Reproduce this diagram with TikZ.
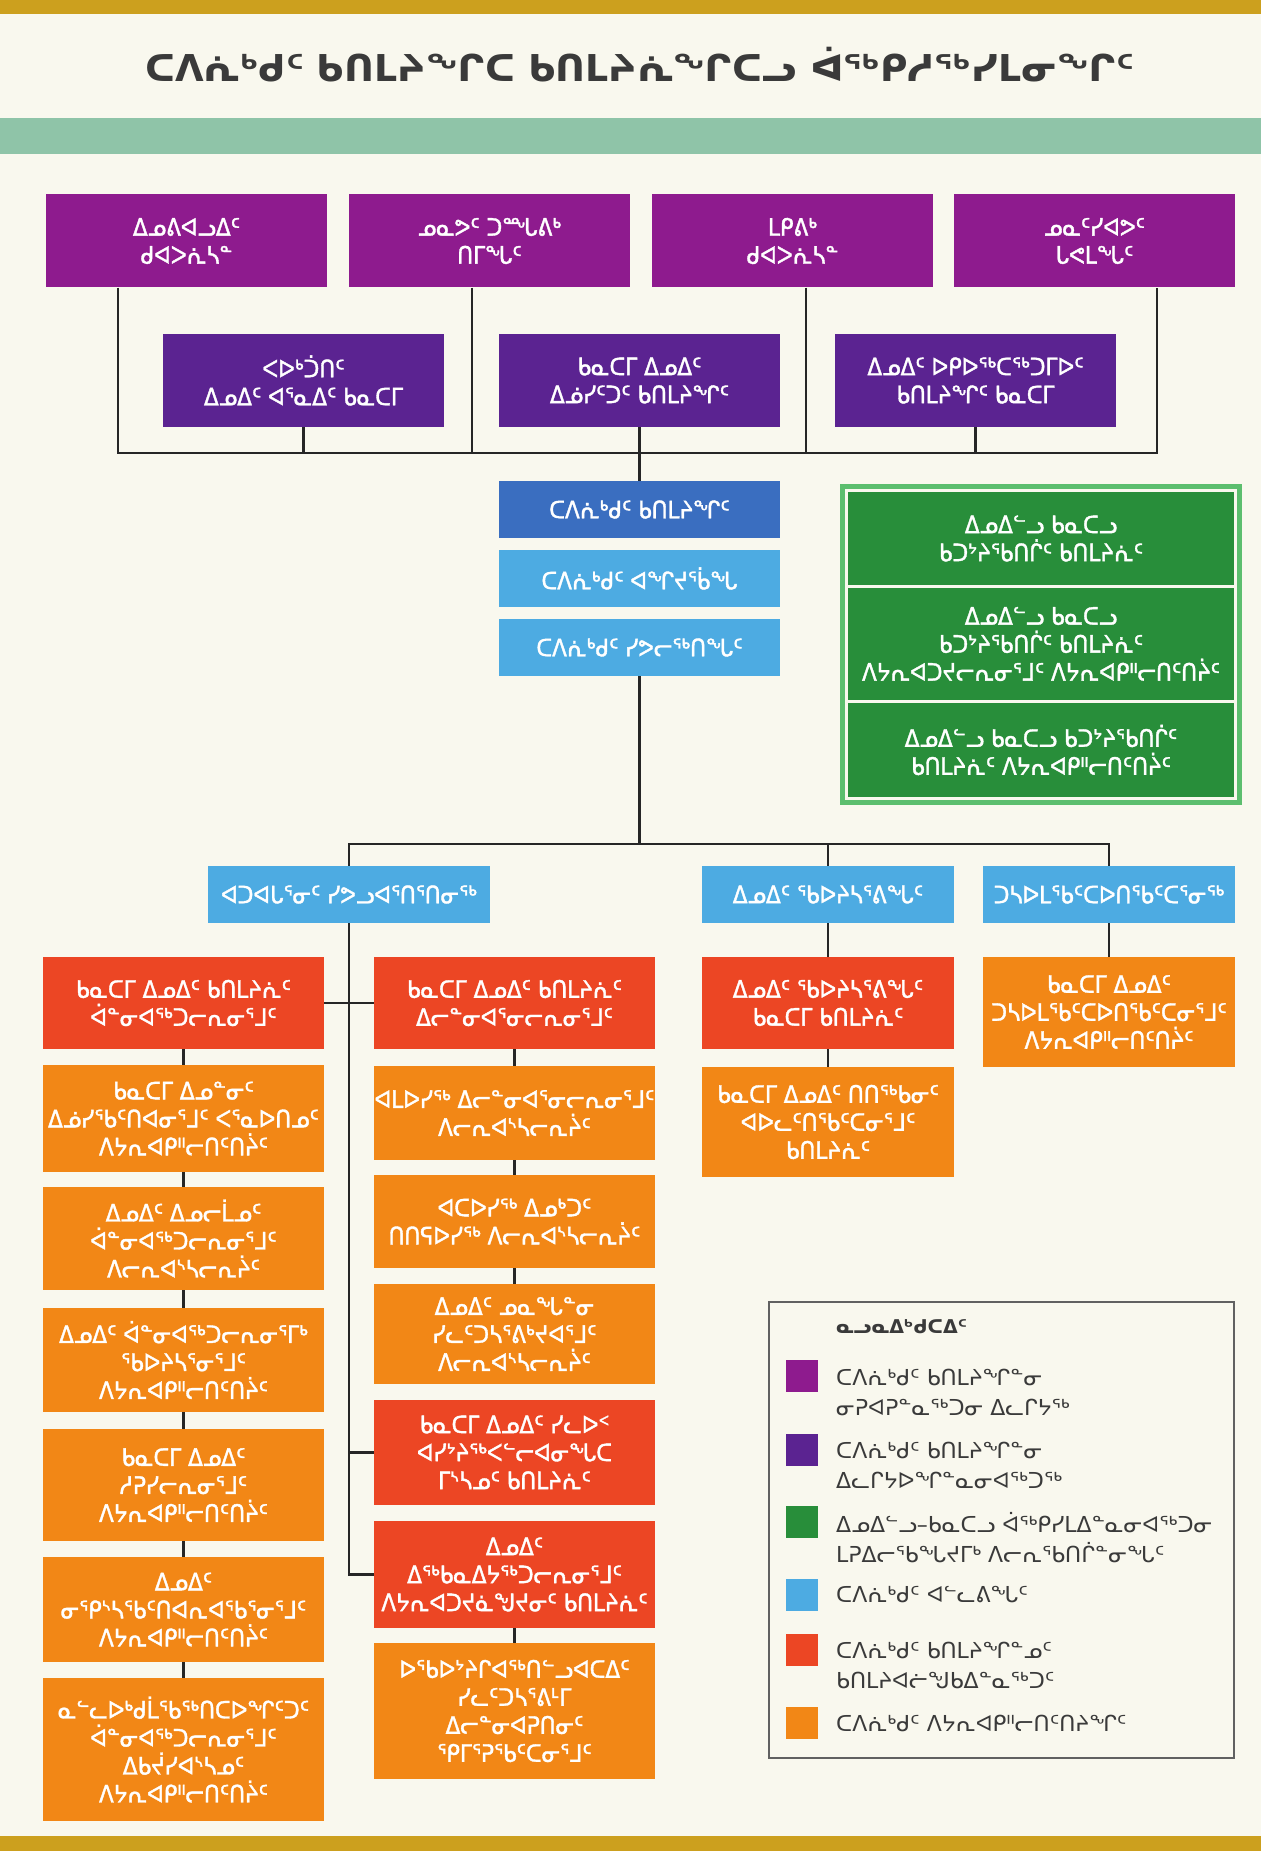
\documentclass[tikz,border=0pt]{standalone}
\usepackage{fontspec}
\setmainfont{DejaVu Sans}
\newfontfamily\boxfont{DejaVu Sans}[FakeStretch=0.9, FakeBold=1.5]
\definecolor{cream}{RGB}{249,248,238}
\definecolor{gold}{RGB}{204,160,30}
\definecolor{teal}{RGB}{143,196,168}
\definecolor{ink}{RGB}{58,58,58}
\definecolor{cPurple}{RGB}{142,27,142}
\definecolor{cViolet}{RGB}{91,35,145}
\definecolor{cNavy}{RGB}{58,110,192}
\definecolor{cSky}{RGB}{77,171,226}
\definecolor{cGreen}{RGB}{40,142,58}
\definecolor{cLime}{RGB}{92,190,110}
\definecolor{cRed}{RGB}{236,70,36}
\definecolor{cOrange}{RGB}{242,135,22}
\begin{document}
\begin{tikzpicture}[x=1pt,y=-1pt,
  box/.style={shape=rectangle, inner sep=0pt, align=center, text=white, font=\boxfont\fontsize{24}{28}\selectfont},
  pbox/.style={box, fill=cPurple, minimum width=281pt, minimum height=93pt},
  vbox/.style={box, fill=cViolet, minimum width=281pt, minimum height=93pt},
  navybox/.style={box, fill=cNavy, minimum width=281pt, minimum height=57pt},
  skybox/.style={box, fill=cSky, minimum width=281pt, minimum height=57pt},
  gbox/.style={box, fill=cGreen, minimum width=386pt},
  rbox/.style={box, fill=cRed, minimum width=281pt},
  obox/.style={box, fill=cOrange, minimum width=281pt},
  swatch/.style={shape=rectangle, minimum size=32pt, inner sep=0pt},
  keytext/.style={anchor=west, align=left, inner sep=0pt, text=ink, font=\fontsize{22}{30}\selectfont},
  link/.style={line width=2.2pt, draw=black!85}]
\useasboundingbox (0,0) rectangle (1261,1851);
\fill[cream] (0,0) rectangle (1261,1851);
\fill[gold] (0,0) rectangle (1261,14);
\fill[gold] (0,1836) rectangle (1261,1851);
\fill[teal] (0,118) rectangle (1261,154);
\node (title) at (640,65) [text=ink, font=\fontsize{37}{44}\selectfont\bfseries] {ᑕᐱᕇᒃᑯᑦ ᑲᑎᒪᔨᖏᑕ ᑲᑎᒪᔨᕇᖏᑕᓗ ᐋᖅᑭᓱᖅᓯᒪᓂᖏᑦ};
% members
\node (ivc) at (186.5,241) [pbox] {ᐃᓄᕕᐊᓗᐃᑦ\\ᑯᐊᐳᕇᓴᓐ};
\node (ntk) at (489.5,241) [pbox] {ᓄᓇᕗᑦ ᑐᙵᕕᒃ\\ᑎᒥᖓᑦ};
\node (mak) at (792.5,241) [pbox] {ᒪᑭᕕᒃ\\ᑯᐊᐳᕇᓴᓐ};
\node (nts) at (1094.5,241) [pbox] {ᓄᓇᑦᓯᐊᕗᑦ\\ᒐᕙᒪᖓᑦ};
\node (pkt) at (303.5,380.5) [vbox] {ᐸᐅᒃᑑᑎᑦ\\ᐃᓄᐃᑦ ᐊᕐᓇᐃᑦ ᑲᓇᑕᒥ};
\node (icc) at (639.5,380.5) [vbox] {ᑲᓇᑕᒥ ᐃᓄᐃᑦ\\ᐃᓅᓯᑦᑐᑦ ᑲᑎᒪᔨᖏᑦ};
\node (iuk) at (975.5,380.5) [vbox] {ᐃᓄᐃᑦ ᐅᑭᐅᖅᑕᖅᑐᒥᐅᑦ\\ᑲᑎᒪᔨᖏᑦ ᑲᓇᑕᒥ};
\coordinate (bus) at (0,453);
\draw[link] ([xshift=-68.5pt]ivc.south) |- ([xshift=62.5pt]nts.south |- bus) -- ([xshift=62.5pt]nts.south);
\draw[link] ([xshift=-17.5pt]ntk.south) -- ([xshift=-17.5pt]ntk.south |- bus);
\draw[link] ([xshift=13.5pt]mak.south) -- ([xshift=13.5pt]mak.south |- bus);
\draw[link] (pkt.south) -- (pkt.south |- bus);
\draw[link] (iuk.south) -- (iuk.south |- bus);
% office
\node (board) at (639.5,509.5) [navybox] {ᑕᐱᕇᒃᑯᑦ ᑲᑎᒪᔨᖏᑦ};
\node (pres) at (639.5,578.5) [skybox] {ᑕᐱᕇᒃᑯᑦ ᐊᖏᔪᖄᖓ};
\node (ed) at (639.5,647.5) [skybox] {ᑕᐱᕇᒃᑯᑦ ᓯᕗᓕᖅᑎᖓᑦ};
\draw[link] (icc.south) -- (board.north);
% partnership
\fill[cLime] (840,484) rectangle (1242,805);
\fill[cream] (845,489) rectangle (1237,800);
\node (icpc) at (1041,538.5) [gbox, minimum height=93pt] {ᐃᓄᐃᓪᓗ ᑲᓇᑕᓗ\\ᑲᑐᔾᔨᖃᑎᒌᑦ ᑲᑎᒪᔨᕇᑦ};
\node (icpcw) at (1041,644) [gbox, minimum height=112pt] {ᐃᓄᐃᓪᓗ ᑲᓇᑕᓗ\\ᑲᑐᔾᔨᖃᑎᒌᑦ ᑲᑎᒪᔨᕇᑦ\\ᐱᔭᕆᐊᑐᔪᓕᕆᓂᕐᒧᑦ ᐱᔭᕆᐊᑭᐦᓕᑎᑦᑎᔩᑦ};
\node (icpct) at (1041,750) [gbox, minimum height=94pt] {ᐃᓄᐃᓪᓗ ᑲᓇᑕᓗ ᑲᑐᔾᔨᖃᑎᒌᑦ\\ᑲᑎᒪᔨᕇᑦ ᐱᔭᕆᐊᑭᐦᓕᑎᑦᑎᔩᑦ};
% departments
\node (pol) at (349,894.5) [skybox, minimum width=282pt] {ᐊᑐᐊᒐᕐᓂᑦ ᓯᕗᓗᐊᕐᑎᕐᑎᓂᖅ};
\node (iq) at (828,894.5) [skybox, minimum width=252pt] {ᐃᓄᐃᑦ ᖃᐅᔨᓴᕐᕕᖓᑦ};
\node (com) at (1109,894.5) [skybox, minimum width=252pt] {ᑐᓴᐅᒪᖃᑦᑕᐅᑎᖃᑦᑕᕐᓂᖅ};
\coordinate (bus2) at (0,844);
\draw[link] (ed.south) -- (ed.south |- bus2);
\draw[link] (pol.north) -- (pol.north |- bus2) -| (com.north);
\draw[link] (iq.north) -- (iq.north |- bus2);
% left column
\node (l1) at (183.5,1003) [rbox, minimum height=92pt] {ᑲᓇᑕᒥ ᐃᓄᐃᑦ ᑲᑎᒪᔨᕇᑦ\\ᐋᓐᓂᐊᖅᑐᓕᕆᓂᕐᒧᑦ};
\node (l2) at (183.5,1118.5) [obox, minimum height=107pt] {ᑲᓇᑕᒥ ᐃᓄᓐᓂᑦ\\ᐃᓅᓯᖃᑦᑎᐊᓂᕐᒧᑦ ᐸᕐᓇᐅᑎᓄᑦ\\ᐱᔭᕆᐊᑭᐦᓕᑎᑦᑎᔩᑦ};
\node (l3) at (183.5,1238.5) [obox, minimum height=103pt] {ᐃᓄᐃᑦ ᐃᓄᓕᒫᓄᑦ\\ᐋᓐᓂᐊᖅᑐᓕᕆᓂᕐᒧᑦ\\ᐱᓕᕆᐊᔅᓴᓕᕆᔩᑦ};
\node (l4) at (183.5,1360) [obox, minimum height=104pt] {ᐃᓄᐃᑦ ᐋᓐᓂᐊᖅᑐᓕᕆᓂᕐᒥᒃ\\ᖃᐅᔨᓴᕐᓂᕐᒧᑦ\\ᐱᔭᕆᐊᑭᐦᓕᑎᑦᑎᔩᑦ};
\node (l5) at (183.5,1485) [obox, minimum height=112pt] {ᑲᓇᑕᒥ ᐃᓄᐃᑦ\\ᓱᕈᓯᓕᕆᓂᕐᒧᑦ\\ᐱᔭᕆᐊᑭᐦᓕᑎᑦᑎᔩᑦ};
\node (l6) at (183.5,1609.5) [obox, minimum height=105pt] {ᐃᓄᐃᑦ\\ᓂᕿᔅᓴᖃᑦᑎᐊᕆᐊᖃᕐᓂᕐᒧᑦ\\ᐱᔭᕆᐊᑭᐦᓕᑎᑦᑎᔩᑦ};
\node (l7) at (183.5,1749.5) [obox, minimum height=143pt] {ᓇᓪᓚᐅᒃᑯᒫᖃᖅᑎᑕᐅᖏᑦᑐᑦ\\ᐋᓐᓂᐊᖅᑐᓕᕆᓂᕐᒧᑦ\\ᐃᑲᔫᓯᐊᔅᓴᓄᑦ\\ᐱᔭᕆᐊᑭᐦᓕᑎᑦᑎᔩᑦ};
% middle column
\node (m1) at (514.5,1003) [rbox, minimum height=92pt] {ᑲᓇᑕᒥ ᐃᓄᐃᑦ ᑲᑎᒪᔨᕇᑦ\\ᐃᓕᓐᓂᐊᕐᓂᓕᕆᓂᕐᒧᑦ};
\node (m2) at (514.5,1113) [obox, minimum height=94pt] {ᐊᒪᐅᓯᖅ ᐃᓕᓐᓂᐊᕐᓂᓕᕆᓂᕐᒧᑦ\\ᐱᓕᕆᐊᔅᓴᓕᕆᔩᑦ};
\node (m3) at (514.5,1221.5) [obox, minimum height=93pt] {ᐊᑕᐅᓯᖅ ᐃᓄᒃᑐᑦ\\ᑎᑎᕋᐅᓯᖅ ᐱᓕᕆᐊᔅᓴᓕᕆᔩᑦ};
\node (m4) at (514.5,1334) [obox, minimum height=100pt] {ᐃᓄᐃᑦ ᓄᓇᖓᓐᓂ\\ᓯᓚᑦᑐᓴᕐᕕᒃᔪᐊᕐᒧᑦ\\ᐱᓕᕆᐊᔅᓴᓕᕆᔩᑦ};
\node (m5) at (514.5,1452.5) [rbox, minimum height=105pt] {ᑲᓇᑕᒥ ᐃᓄᐃᑦ ᓯᓚᐅᑉ\\ᐊᓯᔾᔨᖅᐸᓪᓕᐊᓂᖓᑕ\\ᒥᔅᓴᓄᑦ ᑲᑎᒪᔨᕇᑦ};
\node (m6) at (514.5,1574.5) [rbox, minimum height=107pt] {ᐃᓄᐃᑦ\\ᐃᖅᑲᓇᐃᔭᖅᑐᓕᕆᓂᕐᒧᑦ\\ᐱᔭᕆᐊᑐᔪᓈᖑᔪᓂᑦ ᑲᑎᒪᔨᕇᑦ};
\node (m7) at (514.5,1711) [obox, minimum height=136pt] {ᐅᖃᐅᔾᔨᒋᐊᖅᑎᓪᓗᐊᑕᐃᑦ\\ᓯᓚᑦᑐᓴᕐᕕᒻᒥ\\ᐃᓕᓐᓂᐊᕈᑎᓂᑦ\\ᕿᒥᕐᕈᖃᑦᑕᓂᕐᒧᑦ};
% right columns
\node (r1) at (828,1003) [rbox, minimum width=252pt, minimum height=92pt] {ᐃᓄᐃᑦ ᖃᐅᔨᓴᕐᕕᖓᑦ\\ᑲᓇᑕᒥ ᑲᑎᒪᔨᕇᑦ};
\node (r2) at (828,1122) [obox, minimum width=252pt, minimum height=110pt] {ᑲᓇᑕᒥ ᐃᓄᐃᑦ ᑎᑎᖅᑲᓂᑦ\\ᐊᐅᓚᑦᑎᖃᑦᑕᓂᕐᒧᑦ\\ᑲᑎᒪᔨᕇᑦ};
\node (f1) at (1109,1012) [obox, minimum width=252pt, minimum height=110pt] {ᑲᓇᑕᒥ ᐃᓄᐃᑦ\\ᑐᓴᐅᒪᖃᑦᑕᐅᑎᖃᑦᑕᓂᕐᒧᑦ\\ᐱᔭᕆᐊᑭᐦᓕᑎᑦᑎᔩᑦ};
\draw[link] (pol.south) |- (m6.west);
\draw[link] (l1.east) -- (m1.west);
\draw[link] (pol.south |- m5.west) -- (m5.west);
\foreach \a/\b in {l1/l2,l2/l3,l3/l4,l4/l5,l5/l6,l6/l7,m1/m2,m2/m3,m3/m4,m6/m7,iq/r1,r1/r2,com/f1}
  \draw[link] (\a.south) -- (\b.north);
% legend
\draw[draw=ink!80, line width=1.5pt] (769,1302) rectangle (1234,1758);
\node (keyhead) at (836,1327) [keytext, font=\fontsize{19}{28}\selectfont\bfseries] {ᓇᓗᓇᐃᒃᑯᑕᐃᑦ};
\node (k1) at (802,1376) [swatch, fill=cPurple] {};
\node (k2) at (802,1449.5) [swatch, fill=cViolet] {};
\node (k3) at (802,1522) [swatch, fill=cGreen] {};
\node (k4) at (802,1594.5) [swatch, fill=cSky] {};
\node (k5) at (802,1650) [swatch, fill=cRed] {};
\node (k6) at (802,1723) [swatch, fill=cOrange] {};
\node (t1) at (836,1392) [keytext] {ᑕᐱᕇᒃᑯᑦ ᑲᑎᒪᔨᖏᓐᓂ\\ᓂᕈᐊᕈᓐᓇᖅᑐᓂ ᐃᓚᒋᔭᖅ};
\node (t2) at (836,1465) [keytext] {ᑕᐱᕇᒃᑯᑦ ᑲᑎᒪᔨᖏᓐᓂ\\ᐃᓚᒋᔭᐅᖏᓐᓇᓂᐊᖅᑐᖅ};
\node (t3) at (836,1538) [keytext] {ᐃᓄᐃᓪᓗ–ᑲᓇᑕᓗ ᐋᖅᑭᓯᒪᐃᓐᓇᓂᐊᖅᑐᓂ\\ᒪᕈᐃᓕᖃᖓᔪᒥᒃ ᐱᓕᕆᖃᑎᒌᓐᓂᖓᑦ};
\node (t4) at (836,1595) [keytext] {ᑕᐱᕇᒃᑯᑦ ᐊᓪᓚᕕᖓᑦ};
\node (t5) at (836,1665) [keytext] {ᑕᐱᕇᒃᑯᑦ ᑲᑎᒪᔨᖏᓐᓄᑦ\\ᑲᑎᒪᔨᐊᓖᖑᑲᐃᓐᓇᖅᑐᑦ};
\node (t6) at (836,1723) [keytext] {ᑕᐱᕇᒃᑯᑦ ᐱᔭᕆᐊᑭᐦᓕᑎᑦᑎᔨᖏᑦ};
\end{tikzpicture}
\end{document}
